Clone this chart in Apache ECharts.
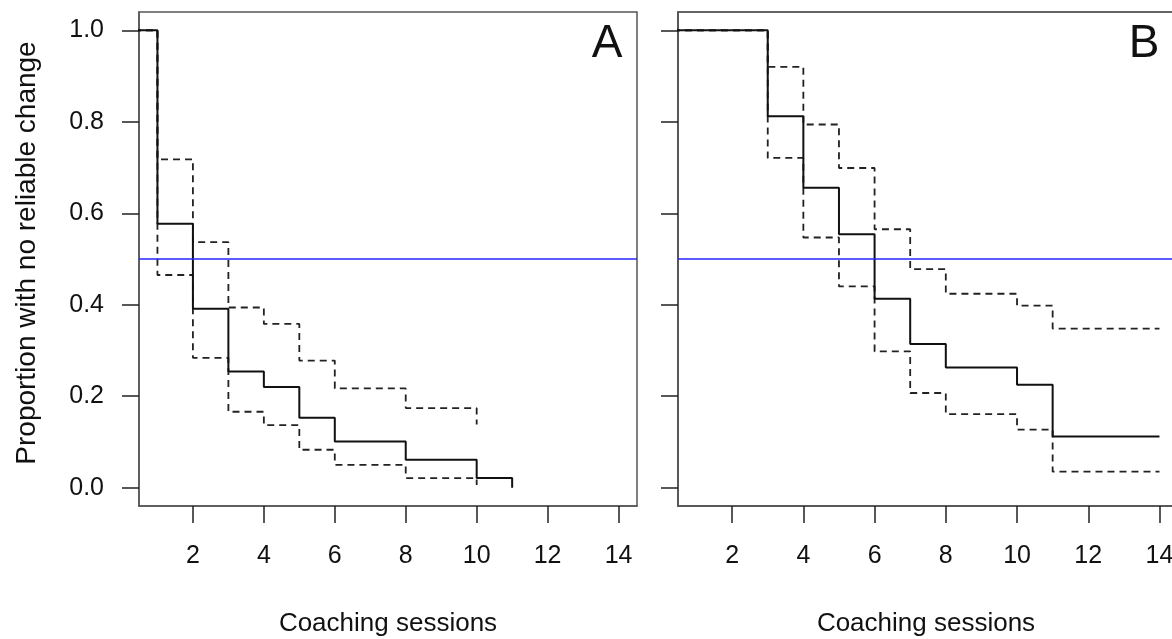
<!DOCTYPE html>
<html>
<head>
<meta charset="utf-8">
<script src="https://cdn.jsdelivr.net/npm/echarts@6/dist/echarts.min.js"></script>
<style>html,body{margin:0;padding:0;background:#fff;overflow:hidden;}#c{width:1182px;height:639px;}</style>
</head>
<body>
<div id="c"></div>
<script>
// ---- Data ----
var xTicks = [2, 4, 6, 8, 10, 12, 14];
var yTicks = [0, 0.2, 0.4, 0.6, 0.8, 1.0];
var refLine = 0.5;

// Panel A
var aTimes      = [0, 1, 2, 3, 4, 5, 6, 8, 10, 11];
var aSurv       = [1, 0.577, 0.391, 0.254, 0.220, 0.153, 0.101, 0.061, 0.021, 0];
var aCiTimes    = [0, 1, 2, 3, 4, 5, 6, 8, 10];
var aUpper      = [1, 0.718, 0.537, 0.394, 0.358, 0.278, 0.217, 0.174, 0.138];
var aLower      = [1, 0.465, 0.284, 0.166, 0.137, 0.083, 0.050, 0.021, 0.006];

// Panel B
var bTimes      = [0, 3, 4, 5, 6, 7, 8, 10, 11, 14];
var bSurv       = [1, 0.812, 0.656, 0.554, 0.413, 0.314, 0.263, 0.225, 0.112, 0.112];
var bUpper      = [1, 0.920, 0.794, 0.699, 0.565, 0.478, 0.424, 0.398, 0.348, 0.348];
var bLower      = [1, 0.721, 0.547, 0.440, 0.298, 0.207, 0.161, 0.127, 0.035, 0.035];

var FONT = "'Liberation Sans', Arial, sans-serif";

function pairs(xs, ys) { return xs.map(function (x, i) { return [x, ys[i]]; }); }

function xAxisCfg(idx) {
  return {
    type: 'value', gridIndex: idx, min: 0.48, max: 14.52,
    axisLine: { show: true, onZero: false, lineStyle: { color: '#555', width: 1.5 } },
    axisTick: { show: true, inside: false, length: 17, customValues: xTicks, lineStyle: { color: '#222', width: 1.5 } },
    axisLabel: { show: true, customValues: xTicks, margin: 38, color: '#111', fontSize: 25, fontFamily: FONT, hideOverlap: false },
    splitLine: { show: false }
  };
}
function yAxisCfg(idx, showLabels) {
  return {
    type: 'value', gridIndex: idx, min: -0.04, max: 1.04,
    axisLine: { show: true, onZero: false, lineStyle: { color: '#555', width: 1.5 } },
    axisTick: { show: true, inside: false, length: 17, customValues: yTicks, lineStyle: { color: '#222', width: 1.5 } },
    axisLabel: { show: showLabels, customValues: yTicks, margin: 35, color: '#111', fontSize: 25, fontFamily: FONT,
      formatter: function (v) { return Number(v).toFixed(1); } },
    splitLine: { show: false }
  };
}
function stepSeries(idx, data, dashed) {
  return {
    type: 'line', xAxisIndex: idx, yAxisIndex: idx, step: 'end', data: data,
    showSymbol: false, symbol: 'none', clip: true, silent: true, z: dashed ? 3 : 4,
    lineStyle: dashed ? { color: '#222', width: 1.8, type: [7, 5] } : { color: '#111', width: 2 }
  };
}
function blueLine(idx) {
  return {
    type: 'line', xAxisIndex: idx, yAxisIndex: idx, data: [], silent: true,
    markLine: { silent: true, symbol: 'none', label: { show: false },
      lineStyle: { color: '#2424ff', width: 1.7, type: 'solid' },
      data: [{ yAxis: refLine }] }
  };
}

var chart = echarts.init(document.getElementById('c'));
chart.setOption({
  animation: false,
  backgroundColor: '#fff',
  grid: [
    { left: 139, top: 12, width: 498, height: 494, show: true, borderColor: '#555', borderWidth: 1.5, containLabel: false },
    { left: 678, top: 12, width: 500, height: 494, show: true, borderColor: '#333', borderWidth: 1.5, containLabel: false }
  ],
  xAxis: [xAxisCfg(0), xAxisCfg(1)],
  yAxis: [yAxisCfg(0, true), yAxisCfg(1, false)],
  series: [
    blueLine(0),
    stepSeries(0, pairs(aCiTimes, aUpper), true),
    stepSeries(0, pairs(aCiTimes, aLower), true),
    stepSeries(0, pairs(aTimes, aSurv), false),
    blueLine(1),
    stepSeries(1, pairs(bTimes, bUpper), true),
    stepSeries(1, pairs(bTimes, bLower), true),
    stepSeries(1, pairs(bTimes, bSurv), false)
  ],
  graphic: [
    { type: 'text', x: 27, y: 253, rotation: Math.PI / 2,
      style: { text: 'Proportion with no reliable change', font: '28px ' + FONT, fill: '#111', align: 'center', verticalAlign: 'middle' } },
    { type: 'text', x: 388, y: 624,
      style: { text: 'Coaching sessions', font: '26px ' + FONT, fill: '#111', align: 'center', verticalAlign: 'middle' } },
    { type: 'text', x: 926, y: 624,
      style: { text: 'Coaching sessions', font: '26px ' + FONT, fill: '#111', align: 'center', verticalAlign: 'middle' } },
    { type: 'text', x: 607, y: 44,
      style: { text: 'A', font: '46px ' + FONT, fill: '#111', align: 'center', verticalAlign: 'middle' } },
    { type: 'text', x: 1144, y: 44,
      style: { text: 'B', font: '46px ' + FONT, fill: '#111', align: 'center', verticalAlign: 'middle' } }
  ]
});
</script>
</body>
</html>
